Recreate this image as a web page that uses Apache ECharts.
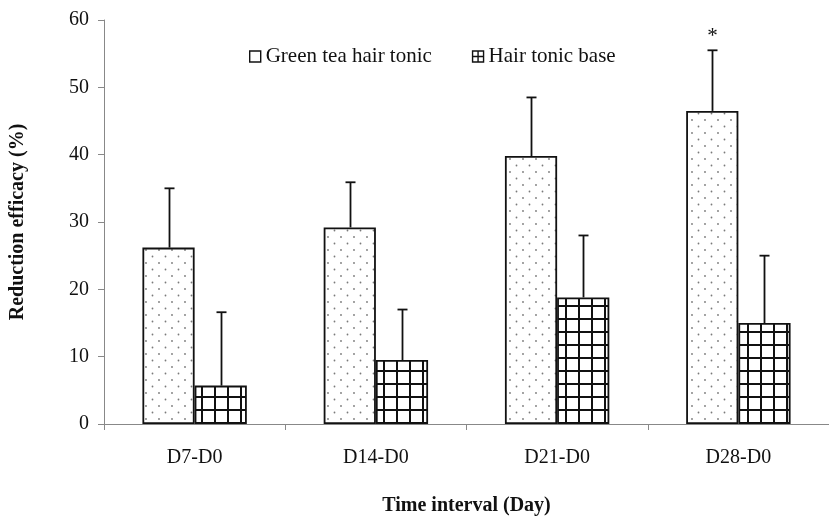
<!DOCTYPE html>
<html>
<head>
<meta charset="utf-8">
<script src="https://cdn.jsdelivr.net/npm/echarts@6/dist/echarts.min.js"></script>
<style>html,body{margin:0;padding:0;background:#fff}#c{width:829px;height:521px}</style>
</head>
<body>
<div id="c"></div>
<script>
// ---- data ----
const categories = ['D7-D0', 'D14-D0', 'D21-D0', 'D28-D0'];
const seriesNames = ['Green tea hair tonic', 'Hair tonic base'];
const greenMean = [26.2, 29.2, 39.8, 46.5];
const greenSD   = [8.8, 6.7, 8.7, 9.0];
const baseMean  = [5.7, 9.5, 18.8, 15.0];
const baseSD    = [10.9, 7.5, 9.2, 10.0];
const greenSig  = ['', '', '', '*'];
const baseSig   = ['', '', '', ''];
const yTicks = { min: 0, max: 60, interval: 10 };

// ---- patterns ----
function dotTile() {
  const c = document.createElement('canvas');
  c.width = 13; c.height = 13;
  const g = c.getContext('2d');
  g.fillStyle = '#fff'; g.fillRect(0, 0, 13, 13);
  g.fillStyle = '#7a7a7a';
  g.beginPath(); g.arc(3, 3, 0.9, 0, Math.PI * 2); g.fill();
  g.beginPath(); g.arc(9.5, 9.5, 0.9, 0, Math.PI * 2); g.fill();
  return c;
}
function gridTile() {
  const c = document.createElement('canvas');
  c.width = 13; c.height = 13;
  const g = c.getContext('2d');
  g.fillStyle = '#fff'; g.fillRect(0, 0, 13, 13);
  g.fillStyle = '#111';
  g.fillRect(6, 0, 2, 13);
  g.fillRect(0, 6, 13, 2);
  return c;
}
const FONT = '"Liberation Serif", "Times New Roman", serif';
const BAR_FRAC = 0.288;

function errData(mean, sd, sig) {
  return mean.map((m, i) => [i, m, +(m + sd[i]).toFixed(2), sig[i]]);
}
function makeErr(offsetSign) {
  return function (params, api) {
    const x = api.value(0), y = api.value(1), top = api.value(2);
    const sig = api.value(3);
    const c0 = api.coord([x, y]);
    const c1 = api.coord([x, top]);
    const band = api.size([1, 0])[0];
    const cx = Math.round(c0[0] + offsetSign * band * BAR_FRAC / 2) + 0.5;
    const st = { stroke: '#111', lineWidth: 1.8 };
    const children = [
      { type: 'line', shape: { x1: cx, y1: c0[1], x2: cx, y2: c1[1] }, style: st },
      { type: 'line', shape: { x1: cx - 5, y1: c1[1], x2: cx + 5, y2: c1[1] }, style: st }
    ];
    if (sig) {
      children.push({ type: 'text', x: cx, y: c1[1] - 3,
        style: { text: sig, font: '21px ' + FONT, fill: '#111', textAlign: 'center', textVerticalAlign: 'bottom' } });
    }
    return { type: 'group', children };
  };
}

const chart = echarts.init(document.getElementById('c'), null, { renderer: 'canvas' });
chart.setOption({
  backgroundColor: '#fff',
  animation: false,
  textStyle: { fontFamily: FONT },
  legend: {
    data: [
      { name: seriesNames[0], icon: 'rect', itemStyle: { color: '#fff', borderColor: '#111', borderWidth: 1.4 } },
      { name: seriesNames[1], icon: 'path://M0,0H10V10H0Z M5,0V10 M0,5H10', itemStyle: { color: '#fff', borderColor: '#111', borderWidth: 1.4 } }
    ],
    left: 244, top: 41,
    itemWidth: 11, itemHeight: 11, itemGap: 40,
    textStyle: { fontFamily: FONT, fontSize: 21, color: '#111' }
  },
  grid: { left: 98, top: 20, width: 737, height: 413, containLabel: false },
  xAxis: {
    type: 'category',
    data: categories,
    name: 'Time interval (Day)',
    nameLocation: 'middle',
    nameGap: 72,
    nameTextStyle: { fontFamily: FONT, fontSize: 20, fontWeight: 'bold', color: '#111' },
    axisLine: { lineStyle: { color: '#888', width: 1 } },
    axisTick: { show: true, length: 6, lineStyle: { color: '#888' } },
    axisLabel: { fontFamily: FONT, fontSize: 20, color: '#111', margin: 24 }
  },
  yAxis: {
    type: 'value',
    min: yTicks.min, max: yTicks.max, interval: yTicks.interval,
    name: 'Reduction efficacy (%)',
    nameLocation: 'middle',
    nameGap: 76,
    nameTextStyle: { fontFamily: FONT, fontSize: 20, fontWeight: 'bold', color: '#111' },
    axisLine: { show: true, lineStyle: { color: '#888', width: 1 } },
    axisTick: { show: true, length: 6, lineStyle: { color: '#888' } },
    splitLine: { show: false },
    axisLabel: { fontFamily: FONT, fontSize: 20, color: '#111', margin: 15 }
  },
  series: [
    {
      name: seriesNames[0], type: 'bar', data: greenMean,
      barWidth: (BAR_FRAC * 100) + '%', barGap: '0%',
      itemStyle: { color: { image: dotTile(), repeat: 'repeat' }, borderColor: '#111', borderWidth: 1.8 }
    },
    {
      name: seriesNames[1], type: 'bar', data: baseMean,
      barWidth: (BAR_FRAC * 100) + '%', barGap: '0%',
      itemStyle: { color: { image: gridTile(), repeat: 'repeat' }, borderColor: '#111', borderWidth: 1.8 }
    },
    {
      type: 'custom', name: 'err-green', renderItem: makeErr(-1),
      data: errData(greenMean, greenSD, greenSig), z: 5, silent: true
    },
    {
      type: 'custom', name: 'err-base', renderItem: makeErr(1),
      data: errData(baseMean, baseSD, baseSig), z: 5, silent: true
    }
  ]
});
</script>
</body>
</html>
